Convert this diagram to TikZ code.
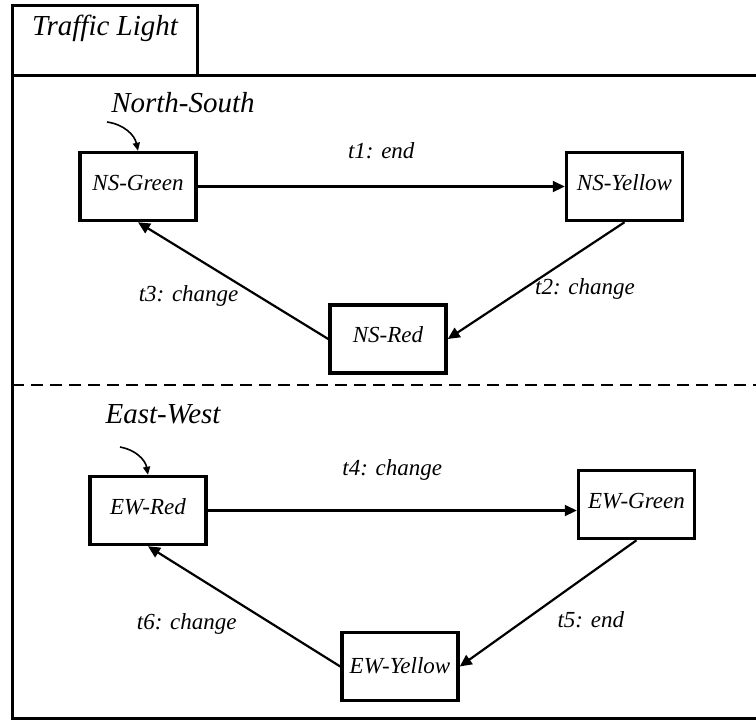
\documentclass[tikz,border=0pt]{standalone}
\usepackage{fontspec}
\setmainfont{Liberation Serif}
\usetikzlibrary{arrows.meta,positioning}

\begin{document}
\begin{tikzpicture}[->,>={Triangle[length=12pt,width=11pt]},line width=2.2pt,x=1pt,y=-1pt]
    \tikzstyle{every node}=[font=\fontsize{23}{23}\selectfont\itshape]
    \tikzstyle{every edge}=[draw,line width=2.2pt]
    \tikzstyle{state box}=[draw,-,rectangle,line width=3.5pt,minimum width=116pt,minimum height=68pt,text height=16pt,text depth=9pt]
    \tikzstyle{region}=[font=\fontsize{29}{29}\selectfont\itshape]
    \tikzstyle{frame}=[-,line width=3pt]
    \tikzstyle{init}=[->,line width=1.6pt,>={Triangle[length=8pt,width=7pt]}]
    \useasboundingbox (0,0) rectangle (756,721);
    \clip (0,0) rectangle (756,721);
    % frame with tab
    \draw[frame] (12,75) rectangle (197,5);
    \draw[frame] (12,75) rectangle (790,718);
    \draw[frame,line width=2.5pt,dash pattern=on 12pt off 7pt] (12,385) -- (790,385);
    \node[region] (title) at (105,28) {Traffic Light};
    % north-south
    \node[region] (ns) at (183,103) {North-South};
    \node[state box]               (nsgreen)                          at (138,186.5) {NS-Green};
    \node[state box]               (nsyellow) [right=367pt of nsgreen]               {NS-Yellow};
    \node[state box]               (nsred)                            at (388,339)   {NS-Red};
    \coordinate (nsinit) at (107,122);
    \draw[init] (nsinit) to[bend left=35] (nsgreen.north);
    \path (nsgreen.east) edge node[above=23pt] {t1: end} (nsgreen.east -| nsyellow.west)
    (nsyellow.south) edge node[pos=0.57,right=7pt] {t2: change} (nsred.east)
    (nsred.west) edge node[pos=0.37,left=15pt] {t3: change} (nsgreen.south);
    % east-west
    \node[region] (ew) at (163,414) {East-West};
    \node[state box]               (ewred)                            at (148,510.5) {EW-Red};
    \node[state box]               (ewgreen)  [right=369pt of ewred,yshift=6pt]      {EW-Green};
    \node[state box,text depth=2pt] (ewyellow)                        at (400,666.5) {EW-Yellow};
    \coordinate (ewinit) at (120,447);
    \draw[init] (ewinit) to[bend left=35] (ewred.north);
    \path (ewred.east) edge node[above=26pt] {t4: change} (ewred.east -| ewgreen.west)
    (ewgreen.south) edge node[pos=0.63,right=28pt] {t5: end} (ewyellow.east)
    (ewyellow.west) edge node[pos=0.35,left=32pt] {t6: change} (ewred.south);
\end{tikzpicture}
\end{document}
